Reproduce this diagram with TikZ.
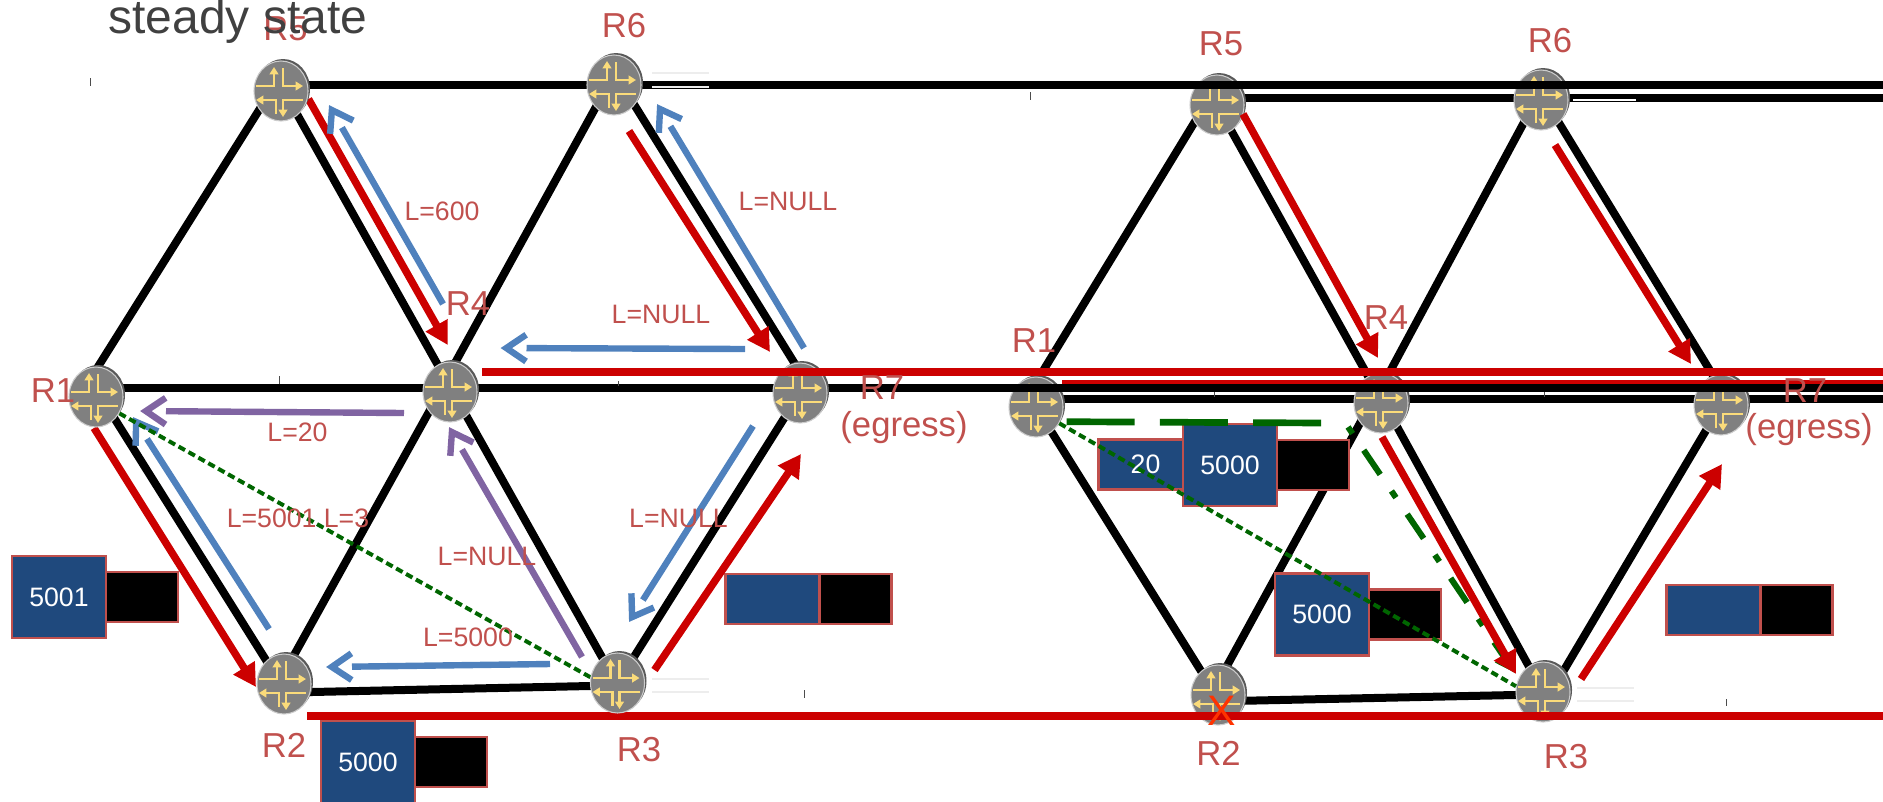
\documentclass[tikz,border=0pt]{standalone}
\usepackage{fontspec}
\setmainfont{Liberation Sans}
\usepackage{xcolor}
\usetikzlibrary{shapes.geometric, arrows.meta, positioning, backgrounds, shadows, decorations.markings}

\definecolor{lblred}{HTML}{C0504D}
\definecolor{lspblue}{HTML}{1F497D}
\definecolor{pathred}{HTML}{CC0000}
\definecolor{pathblue}{HTML}{4F81BD}
\definecolor{pathpurple}{HTML}{8064A2}
\definecolor{pathgreen}{HTML}{006600}
\definecolor{iconyellow}{HTML}{FADB7A}

\pgfdeclarelayer{front}
\pgfsetlayers{background,main,front}

\begin{document}
\begin{tikzpicture}[
    x=0.75pt, y=-0.75pt,
    % ── Router node: grey disc with four yellow turning arrows ───────
    icon/.style={draw=iconyellow, line width=2.1pt, -{Triangle[length=5.5pt,width=6.5pt]}},
    router/.style={
        ellipse, draw=black!20, fill=black!50, line width=0.8pt, inner sep=0pt,
        minimum width=40.5pt, minimum height=45pt,
        general shadow={fill=black!65, shadow xshift=1.5pt, shadow yshift=1.5pt},
        path picture={
            \begin{scope}[shift={(path picture bounding box.center)}]
                \draw[icon] (-25,-5) -- (-7,-5) -- (-7,-24);
                \draw[icon] (2,-23) -- (2,-5) -- (22,-5);
                \draw[icon] (-5,23) -- (-5,9) -- (-25,9);
                \draw[icon] (22,9) -- (2,9) -- (2,26);
            \end{scope}
        }
    },
    % ── Links and stubs ──────────────────────────────────────────────
    link/.style={draw=black, line width=6pt},
    stub/.style={draw=black!7, line width=2pt},
    tick/.style={draw=black!70, line width=0.7pt},
    % ── Paths: red is data, blue and purple carry labels ─────────────
    redline/.style={draw=pathred, line width=5.6pt},
    redarrow/.style={redline, -{Triangle[length=17pt,width=18pt]}},
    % open head stands free of its shaft
    openarrow/.style={draw=#1, line width=4.8pt, shorten >=19.5pt,
        decoration={markings, mark=at position 0.999 with {
            \draw[draw=#1, line width=4.8pt, shorten >=0pt]
                (-19pt,-10pt) -- (-4.2pt,0pt) -- (-19pt,10pt);
        }},
        postaction={decorate}},
    bluearrow/.style={openarrow=pathblue},
    purplearrow/.style={openarrow=pathpurple},
    dotline/.style={draw=pathgreen, line width=3pt, dash pattern=on 5.5pt off 3pt},
    % ── Label stack boxes ────────────────────────────────────────────
    stackbox/.style={draw=lblred, line width=1.7pt, inner sep=0pt, outer sep=0pt,
        text=white, font=\fontsize{20}{20}\selectfont},
    tallbox/.style={stackbox, fill=lspblue, minimum width=70.5pt, minimum height=61.5pt},
    flatbox/.style={stackbox, fill=lspblue, minimum width=70.5pt, minimum height=37.5pt},
    blackbox/.style={stackbox, fill=black, minimum width=54pt, minimum height=37.5pt},
    % ── Texts ────────────────────────────────────────────────────────
    rname/.style={anchor=base, text=lblred, font=\fontsize{26}{26}\selectfont},
    lbl/.style={anchor=base, text=lblred, font=\fontsize{20}{20}\selectfont}
]
\useasboundingbox (0,0) rectangle (1883,801);

% ══════════════════════════════════════════════════════════════════════
% ROUTERS
% ══════════════════════════════════════════════════════════════════════

    % ── Right network, below the lines of the left one ───────────
    \node[router] (rr1) at (1036,407) {};
    \node[router] (rr2) at (1218,695) {};
    \node[router] (rr3) at (1543,692) {};
    \node[router] (rr4) at (1381,403) {};
    \node[router] (rr5) at (1217,105) {};
    \node[router] (rr6) at (1541,100) {};
    \node[router] (rr7) at (1721,405) {};

    % ── Left network ──
    \begin{pgfonlayer}{front}
        \node[router] (lr1) at (96,397) {};
        \node[router] (lr2) at (284,684) {};
        \node[router] (lr3) at (617.5,683) {};
        \node[router] (lr4) at (450,392) {};
        \node[router] (lr5) at (281,91) {};
        \node[router] (lr6) at (614,85) {};
        \node[router] (lr7) at (800,393) {};
    \end{pgfonlayer}

    % ── Page edge, where the long lines leave ─────────────────────
    \coordinate (edgetop) at (1883,84.7);
    \coordinate (edgesecond) at (1883,98);
    \coordinate (edgered) at (1883,372);
    \coordinate (edgethin) at (1883,384);
    \coordinate (edgemid) at (1883,387.5);
    \coordinate (edgelow) at (1883,399);
    \coordinate (edgebottom) at (1883,716);
    \coordinate (redstart) at (482,372);
    \coordinate (thinstart) at (1062,384);
    \coordinate (bottomstart) at (307,716);

% ══════════════════════════════════════════════════════════════════════
% LINKS
% ══════════════════════════════════════════════════════════════════════

    \begin{scope}[on background layer]
        \draw[link] ([shift={(-15,0)}]rr1.center) -- ([shift={(-12,0)}]rr5.center);
        \draw[link] (rr5.center) -- ([shift={(2,0)}]rr4.center);
        \draw[link] ([shift={(-8,0)}]rr4.center) -- ([shift={(-5,0)}]rr6.center);
        \draw[link] ([shift={(4,0)}]rr6.center) -- ([shift={(10,0)}]rr7.center);
        \draw[link] (rr1.center) -- ([shift={(-2,0)}]rr2.center);
        \draw[link] ([shift={(-7,0)}]rr2.center) -- ([shift={(-10,0)}]rr4.center);
        \draw[link] ([shift={(3,0)}]rr4.center) -- (rr3.center);
        \draw[link] ([shift={(8,0)}]rr3.center) -- (rr7.center);
        \draw[link] ([shift={(0,6.3)}]rr2.center) -- ([shift={(0,2.4)}]rr3.center);
        \draw[link] (rr5 |- edgesecond) -- (edgesecond);
        \draw[link] (rr1 |- edgelow) -- (edgelow);
    \end{scope}

    \draw[redline] (thinstart) -- (edgethin);

    \draw[link] ([shift={(-17,0)}]lr1.center) -- ([shift={(-10,0)}]lr5.center);
    \draw[link] ([shift={(3,0)}]lr5.center) -- ([shift={(3,0)}]lr4.center);
    \draw[link] ([shift={(-11,0)}]lr4.center) -- ([shift={(-6,0)}]lr6.center);
    \draw[link] ([shift={(8,0)}]lr6.center) -- ([shift={(13,0)}]lr7.center);
    \draw[link] ([shift={(5,0)}]lr1.center) -- ([shift={(-3,0)}]lr2.center);
    \draw[link] ([shift={(-6,0)}]lr2.center) -- ([shift={(-10,0)}]lr4.center);
    \draw[link] ([shift={(3,0)}]lr4.center) -- ([shift={(-1,0)}]lr3.center);
    \draw[link] (lr3.center) -- (lr7.center);
    \draw[link] ([shift={(0,8.6)}]lr2.center) -- ([shift={(0,2.4)}]lr3.center);
    \draw[link] (lr5 |- edgetop) -- (edgetop);
    \draw[link] (lr1 |- edgemid) -- (edgemid);

    % ── Unused interface stubs and stray ticks ────────────────────
    \draw[stub] ([shift={(38,-12)}]lr6.center) -- ++(57,0);
    \draw[stub] ([shift={(38,2)}]lr6.center) -- ++(57,0);
    \draw[stub] ([shift={(34.5,-4)}]lr3.center) -- ++(57,0);
    \draw[stub] ([shift={(34.5,9)}]lr3.center) -- ++(57,0);
    \draw[stub] ([shift={(34,-4)}]rr3.center) -- ++(57,0);
    \draw[stub] ([shift={(34,9)}]rr3.center) -- ++(57,0);
    \draw[stub, draw=white] ([shift={(32,0)}]rr6.center) -- ++(63,0);
    \draw[tick] (90.5,78) -- ++(0,8);
    \draw[tick] (279,376) -- ++(0,8);
    \draw[tick] (618.5,381) -- ++(0,5);
    \draw[tick] (1030,92) -- ++(0,8);
    \draw[tick] (1214,392) -- ++(0,5);
    \draw[tick] (1544.5,392) -- ++(0,5);
    \draw[tick] (804.6,690) -- ++(0,8);
    \draw[tick] (1726,699) -- ++(0,7);

% ══════════════════════════════════════════════════════════════════════
% LABEL STACKS
% ══════════════════════════════════════════════════════════════════════

    \node[tallbox] (s5001) at (59,597) {5001};
    \node[blackbox, right=0pt of s5001] (s5001b) {};
    \node[tallbox] (s5000) at (368,762) {5000};
    \node[blackbox, right=0pt of s5000] (s5000b) {};
    \node[flatbox] (sblank) at (772.5,599) {};
    \node[blackbox, right=0pt of sblank] (sblankb) {};
    \node[flatbox] (t20) at (1145.5,464.5) {20};
    \node[tallbox] (t5000) at (1230,465) {5000};
    \node[blackbox, right=0pt of t5000] (t5000b) {};
    \node[tallbox] (u5000) at (1322,614.5) {5000};
    \node[blackbox, right=0pt of u5000] (u5000b) {};
    \node[flatbox] (ublank) at (1713.5,610) {};
    \node[blackbox, right=0pt of ublank] (ublankb) {};

% ══════════════════════════════════════════════════════════════════════
% PATHS
% ══════════════════════════════════════════════════════════════════════

    % ── Left network ──
    \draw[redarrow] ([shift={(27.5,8)}]lr5.center) -- ([shift={(-2.3,-47)}]lr4.center);
    \draw[redarrow] ([shift={(15,46)}]lr6.center) -- ([shift={(-30,-41)}]lr7.center);
    \draw[redarrow] ([shift={(-2,31)}]lr1.center) -- ([shift={(-28,3)}]lr2.center);
    \draw[redarrow] ([shift={(37,-13)}]lr3.center) -- ([shift={(1,61)}]lr7.center);
    \draw[bluearrow] ([shift={(-7,-88)}]lr4.center) -- ([shift={(48,14)}]lr5.center);
    \draw[bluearrow] ([shift={(4,-45)}]lr7.center) -- ([shift={(43,19)}]lr6.center);
    \draw[bluearrow] ([shift={(-55,-44)}]lr7.center) -- ([shift={(50.5,-44)}]lr4.center);
    \draw[bluearrow] ([shift={(-15,-55)}]lr2.center) -- ([shift={(37,20)}]lr1.center);
    \draw[bluearrow] ([shift={(-67.5,-19)}]lr3.center) -- ([shift={(42,-17)}]lr2.center);
    \draw[bluearrow] ([shift={(-47,33)}]lr7.center) -- ([shift={(11.5,-61)}]lr3.center);
    \draw[purplearrow] ([shift={(-46,21)}]lr4.center) -- ([shift={(44,14)}]lr1.center);
    \draw[purplearrow] ([shift={(-35.5,-26)}]lr3.center) -- ([shift={(-1,35)}]lr4.center);
    \draw[dotline] (lr1.-35) -- (lr3.168);

    % ── Right network ──
    \draw[draw=pathgreen, line width=5pt, dash pattern=on 51pt off 19pt]
        ([shift={(30.5,14.7)}]rr1.center) -- ([shift={(-60,20)}]rr4.center);
    \draw[draw=pathgreen, line width=4.5pt, dash pattern=on 6pt off 15pt on 22pt off 15pt,
          -{Triangle[length=15pt,width=15pt]}]
        ([shift={(-33,24)}]rr4.center) -- ([shift={(-28,-19)}]rr3.center);
    \draw[redarrow] ([shift={(26,9)}]rr5.center) -- ([shift={(-3,-45)}]rr4.center);
    \draw[redarrow] ([shift={(14,45)}]rr6.center) -- ([shift={(-30,-41)}]rr7.center);
    \draw[redarrow] ([shift={(1,34)}]rr4.center) -- ([shift={(-27,-18)}]rr3.center);
    \draw[redarrow] ([shift={(38,-13)}]rr3.center) -- ([shift={(1,59)}]rr7.center);
    \draw[dotline] (rr1.-35) -- (rr3.168);

    \draw[redline] (bottomstart) -- (edgebottom);

% ══════════════════════════════════════════════════════════════════════
% TEXTS
% ══════════════════════════════════════════════════════════════════════

    \begin{pgfonlayer}{front}
        \draw[redline] (redstart) -- (edgered);

        \node[rname] (n5) at (285.6,40) {R5};
        \node[anchor=base, text=black!75, font=\fontsize{36}{36}\selectfont] (title) at (238,33) {steady state};
        \node[rname] (n6) at (624,37) {R6};
        \node[rname] (n4) at (468,315) {R4};
        \node[rname] (n1) at (53,402) {R1};
        \node[rname] (n7) at (882,399) {R7};
        \node[rname] (n7e) at (904,436) {(egress)};
        \node[rname] (n2) at (284,757) {R2};
        \node[rname] (n3) at (639,761) {R3};

        \node[lbl] (l600) at (442,220) {L=600};
        \node[lbl] (lnull1) at (788,210) {L=NULL};
        \node[lbl] (lnull2) at (661,323) {L=NULL};
        \node[lbl] (l20) at (297.5,441.7) {L=20};
        \node[lbl] (l5001) at (298,527) {L=5001\ L=3};
        \node[lbl] (lnull3) at (487,565) {L=NULL};
        \node[lbl] (l5000) at (468,646.7) {L=5000};
        \node[lbl] (lnull4) at (678.5,527) {L=NULL};

        \node[rname] (m5) at (1221,55) {R5};
        \node[rname] (m6) at (1550,52) {R6};
        \node[rname] (m4) at (1386,329) {R4};
        \node[rname] (m1) at (1034,352) {R1};
        \node[rname] (m7) at (1805,402) {R7};
        \node[rname] (m7e) at (1809,438) {(egress)};
        \node[rname] (m2) at (1218.5,765) {R2};
        \node[rname] (m3) at (1566,768) {R3};

        \node[anchor=center, text={rgb,255:red,255;green,51;blue,0},
              font=\fontsize{32}{32}\selectfont] (fail) at (1222,711) {X};
    \end{pgfonlayer}

\end{tikzpicture}
\end{document}
